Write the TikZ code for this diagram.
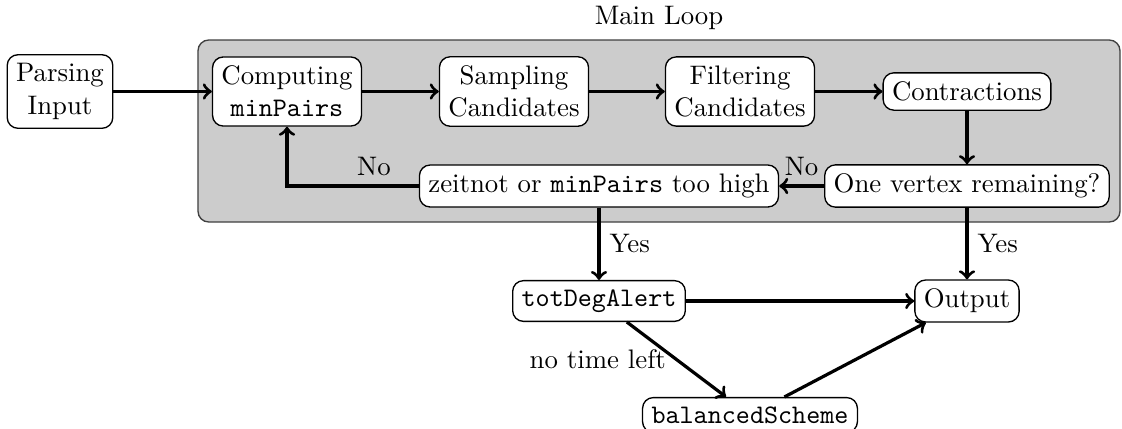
\documentclass[tikz,border=0pt]{standalone}
\usetikzlibrary{positioning}
\tikzset{
  box/.style={draw=black, fill=white, rounded corners=4pt, align=center, line width=0.5pt},
  loopbox/.style={draw=black!75, fill=black!20, rounded corners=4pt, inner sep=0pt, line width=0.5pt},
  arr/.style={->, line width=1.2pt},
  lbl/.style={inner sep=3.33pt}
}
\begin{document}
\begin{tikzpicture}[x=0.3731pt, y=-0.3731pt]
\useasboundingbox (0,0) rectangle (1122,428);
\node[loopbox, minimum width=344pt, minimum height=67.9pt, label={above:Main Loop}] (loop) at (659,131) {};
\node[box] (parse) at (60,91.5) {Parsing\\Input};
\node[box] (comp) at (287,91.5) {Computing\\\texttt{minPairs}};
\node[box] (samp) at (514,91.5) {Sampling\\Candidates};
\node[box] (filt) at (740,91.5) {Filtering\\Candidates};
\node[box] (contr) at (967,91.5) {Contractions};
\node[box] (onev) at (967,186) {One vertex remaining?};
\node[box] (zeit) at (599,186) {zeitnot or \texttt{minPairs} too high};
\node[box] (tot) at (599,301) {\texttt{totDegAlert}};
\node[box] (out) at (967,301) {Output};
\node[box] (bal) at (750,415) {\texttt{balancedScheme}};
\draw[arr] (parse) -- (comp);
\draw[arr] (comp) -- (samp);
\draw[arr] (samp) -- (filt);
\draw[arr] (filt) -- (contr);
\draw[arr] (contr) -- (onev);
\draw[arr] (onev) -- node[lbl, above]{No} (zeit);
\draw[arr] (zeit.west) -| node[lbl, pos=0.17, above]{No} (comp.south);
\draw[arr] (zeit) -- node[lbl, right]{Yes} (tot);
\draw[arr] (onev) -- node[lbl, right]{Yes} (out);
\draw[arr] (tot) -- (out);
\draw[arr] (tot) -- node[lbl, left]{no time left} (bal);
\draw[arr] (bal) -- (out);
\end{tikzpicture}
\end{document}
